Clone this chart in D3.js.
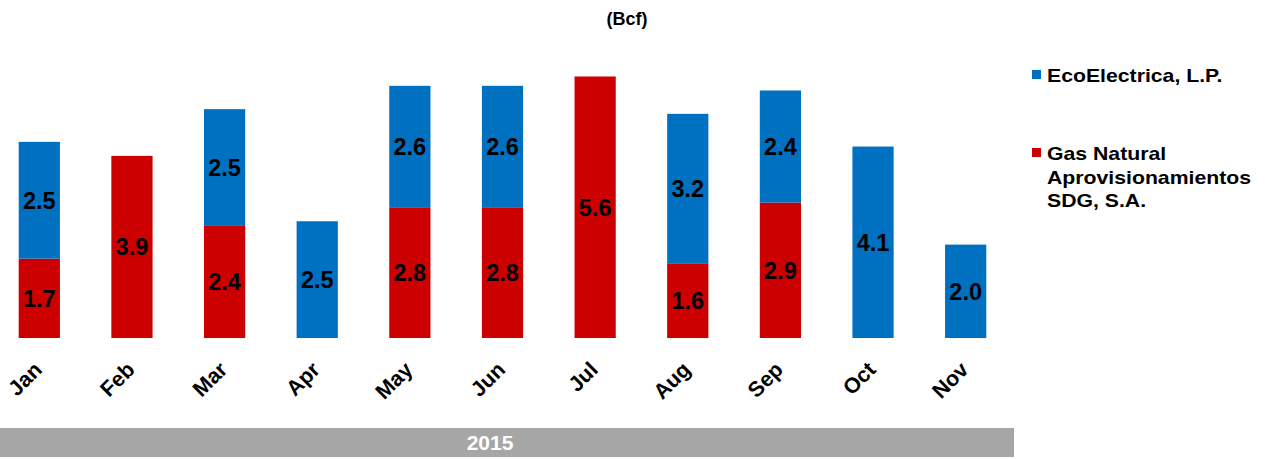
<!DOCTYPE html>
<html>
<head>
<meta charset="utf-8">
<script src="https://cdn.jsdelivr.net/npm/d3@7"></script>
<style>
  body { margin: 0; background: #fff; }
  svg { display: block; font-family: Arial, "Liberation Sans", sans-serif; }
</style>
</head>
<body>
<svg id="chart" width="1267" height="459"></svg>
<script>
// data
var months = ["Jan", "Feb", "Mar", "Apr", "May", "Jun", "Jul", "Aug", "Sep", "Oct", "Nov"];
var gasNatural = [1.7, 3.9, 2.4, 0, 2.8, 2.8, 5.6, 1.6, 2.9, 0, 0];
var ecoElectrica = [2.5, 0, 2.5, 2.5, 2.6, 2.6, 0, 3.2, 2.4, 4.1, 2.0];
var seriesNames = ["Gas Natural Aprovisionamientos SDG, S.A.", "EcoElectrica, L.P."];
var yearLabel = "2015";

var blue = "#0070C0", red = "#CC0000";

var svg = d3.select("#chart");

var x = d3.scaleBand().domain(months).range([-7, 1012]).paddingInner(0.555).paddingOuter(0.2775);
var y = d3.scaleLinear().domain([0, 6]).range([338, 338 - 6 * 46.7]);

// stack: red on bottom, blue on top
var rows = months.map(function (m, i) {
    return { month: m, gas: gasNatural[i], eco: ecoElectrica[i] };
});
var stack = d3.stack().keys(["gas", "eco"]);
var layers = stack(rows);
var colors = { gas: red, eco: blue };

var g = svg.append("g");

layers.forEach(function (layer) {
    var key = layer.key;
    layer.forEach(function (d) {
        var v = d[1] - d[0];
        if (v <= 0) return;
        g.append("rect")
            .attr("x", x(d.data.month))
            .attr("width", x.bandwidth())
            .attr("y", y(d[1]))
            .attr("height", y(d[0]) - y(d[1]))
            .attr("fill", colors[key]);
        g.append("text")
            .attr("x", x(d.data.month) + x.bandwidth() / 2)
            .attr("y", (y(d[0]) + y(d[1])) / 2)
            .attr("dy", "0.36em")
            .attr("text-anchor", "middle")
            .attr("font-size", 23.5)
            .attr("font-weight", "bold")
            .attr("fill", "#000")
            .text(d3.format(".1f")(v));
    });
});

// month labels, rotated
var xAxis = svg.append("g");
months.forEach(function (m) {
    xAxis.append("text")
        .attr("transform", "translate(" + (x(m) + x.bandwidth() / 2 + 4) + ",371) rotate(-45)")
        .attr("text-anchor", "end")
        .attr("font-size", 21.5)
        .attr("font-weight", "bold")
        .attr("fill", "#000")
        .text(m);
});

// year band
svg.append("rect")
    .attr("x", 0).attr("y", 428)
    .attr("width", 1014).attr("height", 29)
    .attr("fill", "#A6A6A6");
svg.append("text")
    .attr("x", 490).attr("y", 442)
    .attr("dy", "0.36em")
    .attr("text-anchor", "middle")
    .attr("font-size", 21)
    .attr("font-weight", "bold")
    .attr("fill", "#fff")
    .text(yearLabel);

// unit subtitle
svg.append("text")
    .attr("x", 627).attr("y", 25)
    .attr("text-anchor", "middle")
    .attr("font-size", 18)
    .attr("font-weight", "bold")
    .text("(Bcf)");

// legend (text in the picture is a bit wider than tall, so stretch it)
var legend = svg.append("g");
legend.append("rect").attr("x", 1032).attr("y", 70).attr("width", 9).attr("height", 9).attr("fill", blue);
legend.append("text").attr("transform", "translate(1047,82) scale(1.18,1)")
    .attr("font-size", 18).attr("font-weight", "bold")
    .text(seriesNames[1]);

legend.append("rect").attr("x", 1032).attr("y", 148).attr("width", 9).attr("height", 9).attr("fill", red);
var lines = ["Gas Natural", "Aprovisionamientos", "SDG, S.A."];
lines.forEach(function (t, i) {
    legend.append("text").attr("transform", "translate(1047," + (160 + i * 23.5) + ") scale(1.18,1)")
        .attr("font-size", 18).attr("font-weight", "bold")
        .text(t);
});
</script>
</body>
</html>
